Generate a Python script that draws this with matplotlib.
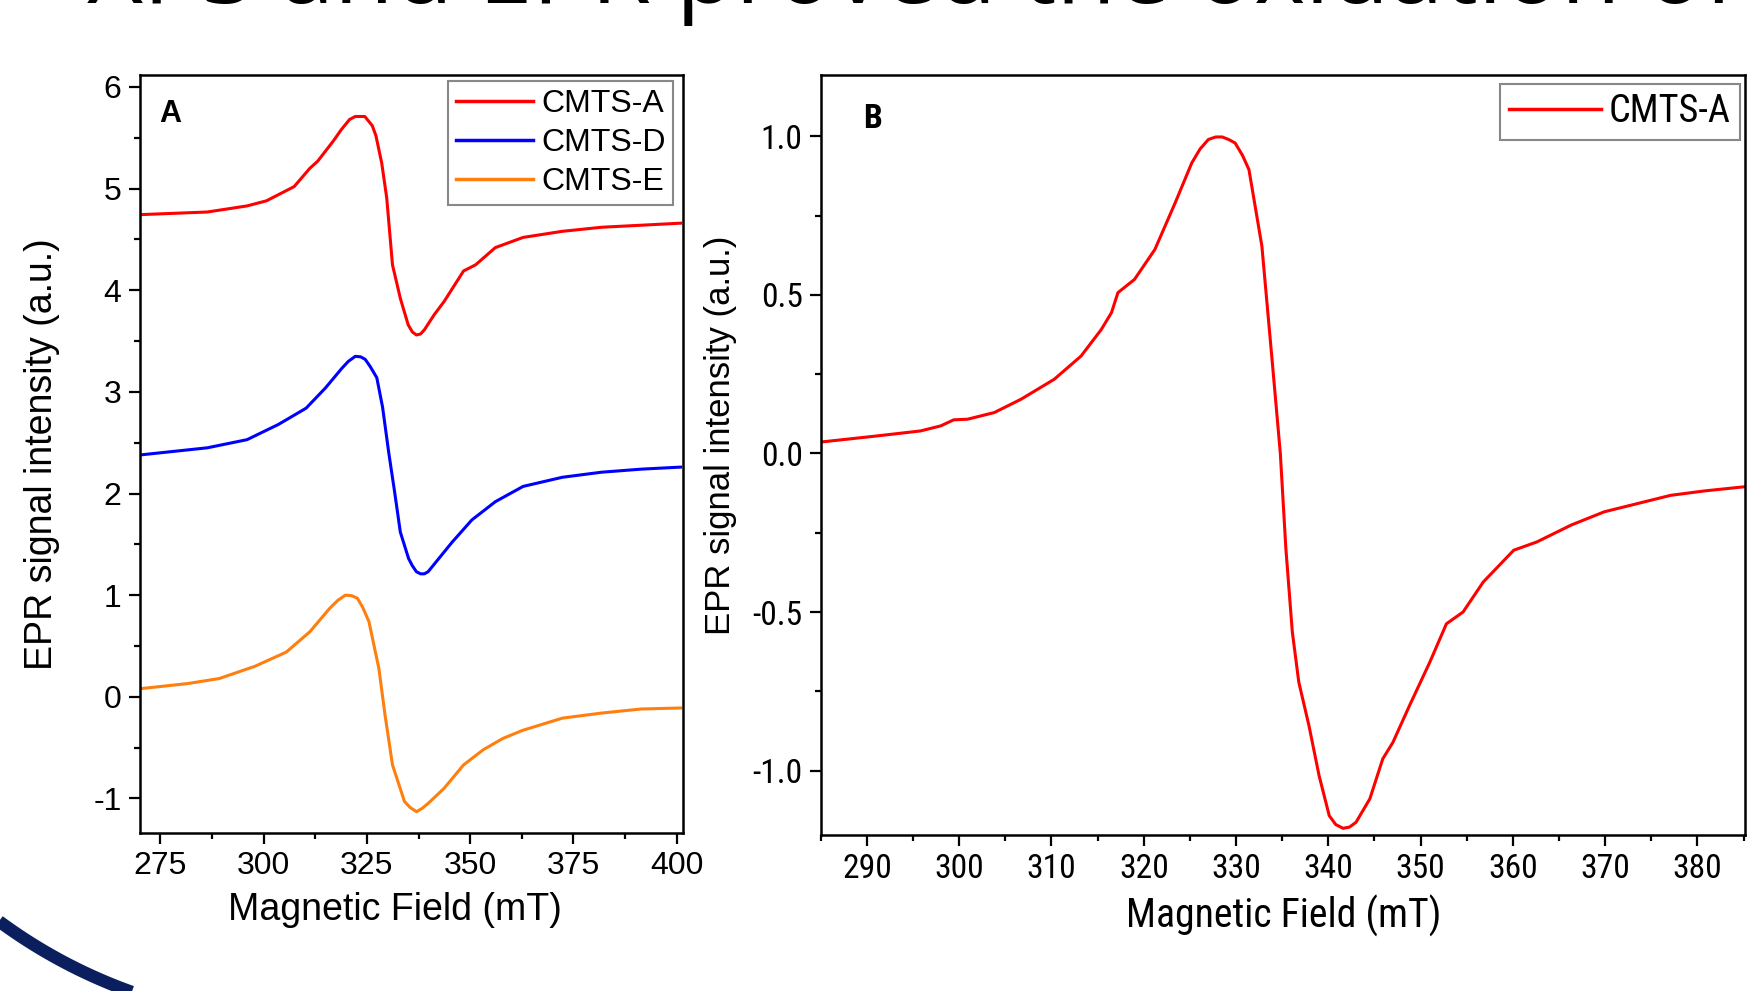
import numpy as np
import matplotlib
matplotlib.use('Agg')
import matplotlib.pyplot as plt
from matplotlib.ticker import MultipleLocator, FormatStrFormatter
from matplotlib import font_manager
from matplotlib.font_manager import FontProperties

plt.rcParams['font.family'] = ['Liberation Sans', 'DejaVu Sans']
plt.rcParams['axes.unicode_minus'] = False


# 面板B的字体看起来被压窄了，找一个窄体字（正体），没有就用普通的
def find_narrow(bold=False):
    want = (700, 'bold') if bold else (400, 'normal', 'regular')
    for name in ('Liberation Sans Narrow', 'Roboto Condensed', 'Noto Sans Condensed'):
        for f in font_manager.fontManager.ttflist:
            if f.name == name and f.style == 'normal' and f.weight in want:
                return f.fname
    for f in font_manager.fontManager.ttflist:
        if f.name in ('Noto Sans', 'Liberation Sans') and f.stretch == 'condensed' and f.style == 'normal' \
                and f.weight in want:
            return f.fname
    return None


narrow_file = find_narrow()
narrow_bold = find_narrow(bold=True)


def bfont(size, bold=False):
    fn = narrow_bold if bold else narrow_file
    if fn:
        return FontProperties(fname=fn, size=size * 1.1)
    return FontProperties(family='Liberation Sans', size=size, weight='bold' if bold else 'normal')


# ---- 面板A数据 (磁场 mT, 信号强度) ----
a_x_red = [270.7, 286.4, 296.0, 300.7, 307.4, 311.2, 313.1, 316.9, 318.8, 320.8, 322.2, 324.5,
           326.3, 327.2, 328.6, 329.8, 331.2, 333.1, 335.0, 336.0, 337.0, 338.0, 338.9, 341.3,
           343.7, 348.4, 351.3, 356.1, 362.8, 372.3, 381.8, 391.4, 400.9]
a_y_red = [4.745, 4.77, 4.83, 4.88, 5.02, 5.20, 5.27, 5.47, 5.58, 5.68, 5.71, 5.71,
           5.62, 5.52, 5.25, 4.91, 4.25, 3.92, 3.66, 3.59, 3.56, 3.57, 3.61, 3.76,
           3.89, 4.19, 4.25, 4.42, 4.52, 4.58, 4.62, 4.64, 4.66]

a_x_blue = [270.2, 286.4, 296.0, 303.6, 310.3, 315.0, 318.9, 320.5, 322.2, 323.5, 324.6, 325.8,
            327.4, 328.8, 330.3, 331.7, 333.1, 335.1, 336.0, 337.0, 338.0, 338.9, 339.8, 340.8,
            343.0, 345.6, 350.4, 356.1, 362.8, 372.3, 381.8, 391.4, 400.9]
a_y_blue = [2.38, 2.45, 2.53, 2.68, 2.84, 3.04, 3.23, 3.30, 3.35, 3.345, 3.32, 3.25,
            3.14, 2.85, 2.40, 2.02, 1.62, 1.36, 1.29, 1.23, 1.21, 1.21, 1.23, 1.28,
            1.39, 1.52, 1.74, 1.92, 2.07, 2.16, 2.21, 2.24, 2.26]

a_x_orange = [270.2, 281.6, 289.3, 297.9, 305.5, 311.2, 316.0, 318.0, 319.8, 321.3, 322.7, 324.0,
              325.5, 327.9, 329.4, 331.2, 334.1, 335.5, 337.0, 338.3, 339.8, 343.7, 348.4, 353.2,
              357.9, 362.7, 372.3, 381.8, 391.4, 400.9]
a_y_orange = [0.08, 0.13, 0.18, 0.30, 0.44, 0.64, 0.87, 0.95, 1.00, 0.995, 0.97, 0.88,
              0.74, 0.28, -0.18, -0.67, -1.03, -1.09, -1.13, -1.10, -1.05, -0.90, -0.67, -0.52,
              -0.41, -0.33, -0.21, -0.16, -0.12, -0.11]

a_labels = ['CMTS-A', 'CMTS-D', 'CMTS-E']

# ---- 面板B数据 ----
b_x = [285.3, 290.7, 295.8, 298.0, 299.4, 300.9, 303.8, 306.7, 310.3, 313.2, 315.4, 316.5,
       317.2, 319.0, 321.2, 323.4, 325.2, 326.1, 327.0, 327.8, 328.5, 329.2, 329.9, 330.7,
       331.4, 332.8, 333.9, 334.8, 335.4, 336.1, 336.8, 337.9, 339.0, 340.1, 340.8, 341.6,
       342.3, 343.0, 344.5, 345.9, 347.0, 348.8, 351.0, 352.8, 354.6, 356.8, 360.1, 362.6,
       366.3, 369.9, 373.5, 377.1, 380.8, 385.1]
b_y = [0.037, 0.054, 0.071, 0.087, 0.106, 0.108, 0.129, 0.171, 0.234, 0.307, 0.391, 0.444,
       0.507, 0.549, 0.643, 0.79, 0.916, 0.96, 0.99, 0.998, 0.998, 0.99, 0.979, 0.94,
       0.895, 0.654, 0.297, 0.0, -0.30, -0.563, -0.721, -0.858, -1.016, -1.142, -1.17, -1.182,
       -1.178, -1.163, -1.089, -0.963, -0.911, -0.795, -0.658, -0.537, -0.50, -0.405, -0.305, -0.279,
       -0.226, -0.184, -0.158, -0.132, -0.118, -0.105]

W, H = 1751, 991
fig = plt.figure(figsize=(W / 100, H / 100), dpi=100)

# 背景层：幻灯片标题和左下角的弧线
bg = fig.add_axes([0, 0, 1, 1], zorder=-1)
bg.set_xlim(0, W)
bg.set_ylim(H, 0)
bg.axis('off')
t = np.radians(np.linspace(100, 140, 100))
bg.plot(305 + 515 * np.cos(t), 507 + 515 * np.sin(t), color='#0b1f5e', lw=9, solid_capstyle='butt')
bg.text(87, 3, 'XPS and EPR proved the oxidation of', fontsize=70, family=['Open Sans', 'DejaVu Sans'],
        ha='left', va='baseline', color='black')

lw = 2.2
frame_lw = 1.8

# ---- 面板A ----
ax1 = fig.add_axes([139.6 / W, 1 - 833 / H, 543.8 / W, 758.2 / H])
ax1.plot(a_x_red, a_y_red, color='#ff0000', lw=lw, label=a_labels[0])
ax1.plot(a_x_blue, a_y_blue, color='#0000ff', lw=lw, label=a_labels[1])
ax1.plot(a_x_orange, a_y_orange, color='#ff7f0e', lw=lw, label=a_labels[2])
ax1.set_xlim(270, 401.6)
ax1.set_ylim(-1.34, 6.12)
ax1.xaxis.set_major_locator(MultipleLocator(25))
ax1.xaxis.set_minor_locator(MultipleLocator(12.5))
ax1.yaxis.set_major_locator(MultipleLocator(1))
ax1.yaxis.set_minor_locator(MultipleLocator(0.5))
ax1.tick_params(which='major', direction='out', length=8, width=1.6, labelsize=23, pad=5)
ax1.tick_params(which='minor', direction='out', length=4.5, width=1.6)
for s in ax1.spines.values():
    s.set_linewidth(frame_lw)
ax1.set_xlabel('Magnetic Field (mT)', fontsize=27)
ax1.set_ylabel('EPR signal intensity (a.u.)', fontsize=27)
ax1.xaxis.set_label_coords(0.469, -0.078)
ax1.yaxis.set_label_coords(-0.146, 0.5)
ax1.text(0.056, 0.948, 'A', transform=ax1.transAxes, fontsize=22, fontweight='bold', ha='center', va='center')
leg1 = ax1.legend(loc='upper right', bbox_to_anchor=(0.9816, 0.9912), borderaxespad=0, fontsize=23,
                  handlelength=2.4, handletextpad=0.25, labelspacing=0.28, borderpad=0.25,
                  fancybox=False, edgecolor='#888888', framealpha=1)
leg1.get_frame().set_linewidth(1.5)
for l in leg1.get_lines():
    l.set_linewidth(2.5)

# ---- 面板B ----
ax2 = fig.add_axes([820.8 / W, 1 - 835.3 / H, 924.6 / W, 760.5 / H])
ax2.plot(b_x, b_y, color='#ff0000', lw=lw, label='CMTS-A')
ax2.set_xlim(285, 385.2)
ax2.set_ylim(-1.204, 1.194)
ax2.xaxis.set_major_locator(MultipleLocator(10))
ax2.xaxis.set_minor_locator(MultipleLocator(5))
ax2.yaxis.set_major_locator(MultipleLocator(0.5))
ax2.yaxis.set_minor_locator(MultipleLocator(0.25))
ax2.yaxis.set_major_formatter(FormatStrFormatter('%.1f'))
ax2.tick_params(which='major', direction='out', length=8, width=1.6, pad=5)
ax2.tick_params(which='minor', direction='out', length=4.5, width=1.6)
for lab in ax2.get_xticklabels() + ax2.get_yticklabels():
    lab.set_fontproperties(bfont(22))
for s in ax2.spines.values():
    s.set_linewidth(frame_lw)
ax2.set_xlabel('Magnetic Field (mT)', fontproperties=bfont(26))
ax2.set_ylabel('EPR signal intensity (a.u.)', fontsize=25)
ax2.xaxis.set_label_coords(0.501, -0.078)
ax2.yaxis.set_label_coords(-0.091, 0.526)
ax2.text(0.0565, 0.942, 'B', transform=ax2.transAxes, fontproperties=bfont(22, bold=True),
         ha='center', va='center')
leg2 = ax2.legend(loc='upper right', bbox_to_anchor=(0.994, 0.988), borderaxespad=0,
                  prop=bfont(25),
                  handlelength=2.4, handletextpad=0.2, borderpad=0.25,
                  fancybox=False, edgecolor='#888888', framealpha=1)
leg2.get_frame().set_linewidth(1.5)
for l in leg2.get_lines():
    l.set_linewidth(2.5)

fig.savefig('out.png', dpi=100)
